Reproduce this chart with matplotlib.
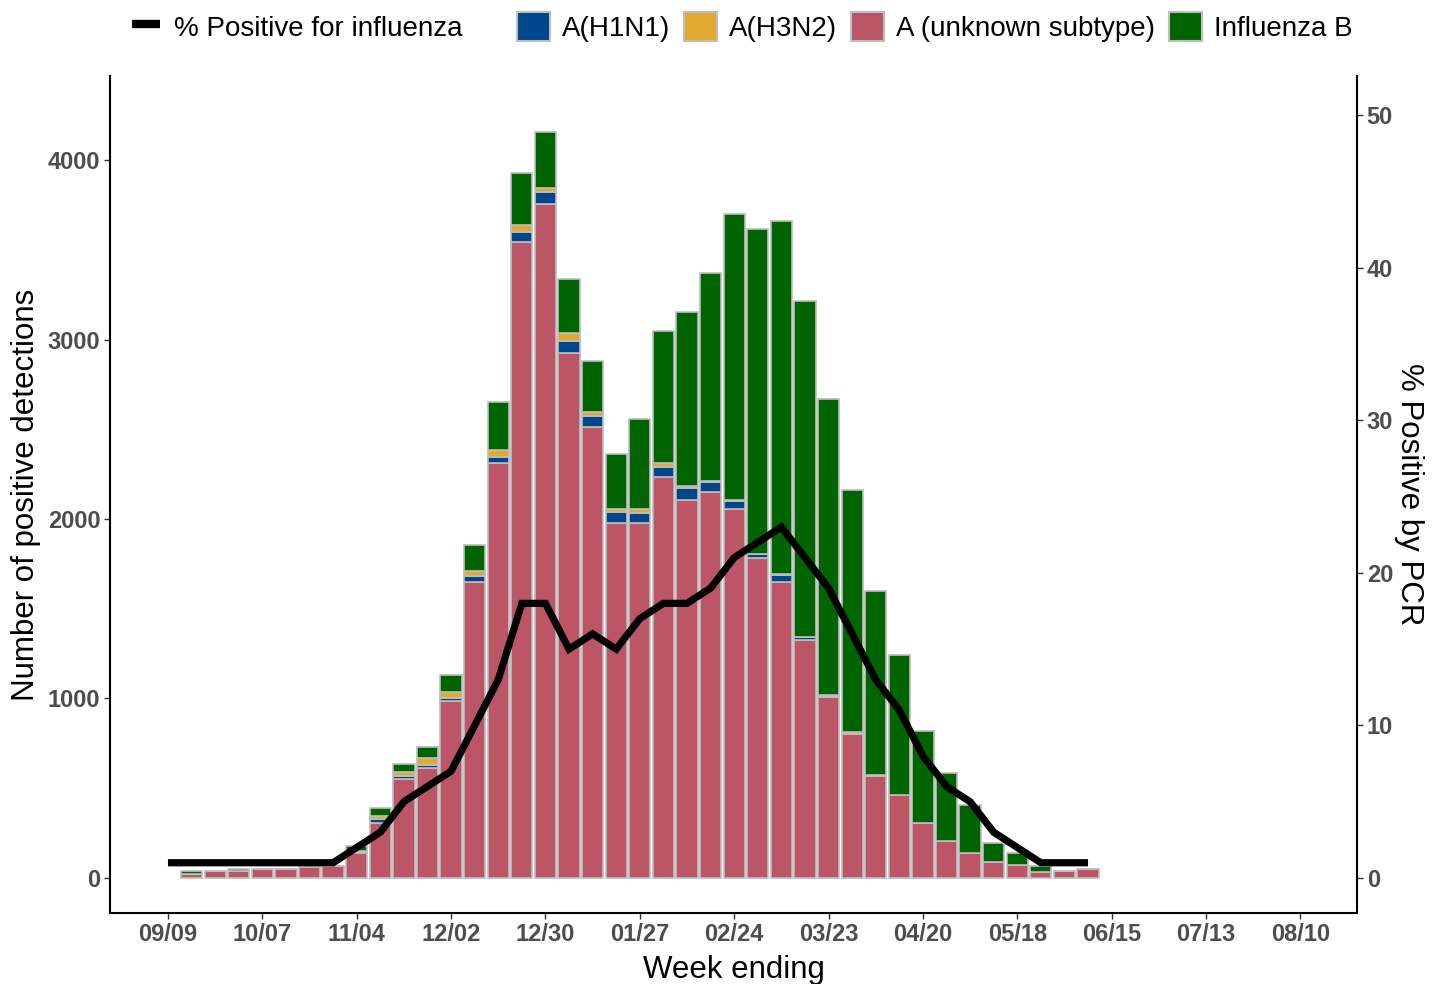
import numpy as np
import pandas as pd
import matplotlib
matplotlib.use("Agg")
import matplotlib.pyplot as plt
from matplotlib.patches import Patch
from matplotlib.lines import Line2D

plt.rcParams['font.family'] = ['Liberation Sans', 'DejaVu Sans']

# ---------------- data ----------------
first_week = "2023-09-09"
n_weeks = 40
# weekly counts, starting at week ending 09/16 (no bar for 09/09)
unknown_a = [25, 40, 40, 50, 50, 60, 65, 140, 305, 550, 615, 985, 1650, 2310,
             3545, 3755, 2925, 2515, 1975, 1975, 2232, 2106, 2150, 2058, 1781,
             1649, 1326, 1007, 800, 570, 460, 305, 208, 137, 91, 72, 35, 40, 50]
h1n1 = [0, 0, 0, 0, 0, 0, 0, 5, 25, 20, 15, 15, 30, 35, 55, 65, 65, 60, 65,
        60, 55, 65, 55, 45, 25, 40, 15, 5, 8, 5, 0, 0, 0, 0, 0, 0, 0, 0, 0]
h3n2 = [0, 0, 0, 0, 0, 0, 0, 3, 15, 20, 40, 35, 30, 40, 40, 25, 45, 20, 15,
        22, 25, 15, 5, 3, 0, 5, 3, 5, 5, 0, 0, 0, 0, 0, 0, 0, 0, 0, 0]
flu_b = [15, 0, 10, 0, 0, 0, 0, 30, 45, 45, 58, 95, 145, 265, 290, 310, 300,
         285, 309, 502, 735, 969, 1159, 1593, 1808, 1968, 1870, 1650, 1349,
         1024, 780, 515, 375, 270, 102, 65, 33, 0, 0]
# % positive, starting at week ending 09/09
pct_positive = [1, 1, 1, 1, 1, 1, 1, 1, 2, 3, 5, 6, 7, 10, 13, 18, 18, 15, 16,
                15, 17, 18, 18, 19, 21, 22, 23, 21, 19, 16, 13, 11, 8, 6, 5, 3,
                2, 1, 1, 1]
tick_labels = ["09/09", "10/07", "11/04", "12/02", "12/30", "01/27", "02/24",
               "03/23", "04/20", "05/18", "06/15", "07/13", "08/10"]
left_ticks = [0, 1000, 2000, 3000, 4000]
right_ticks = [0, 10, 20, 30, 40, 50]
sec_factor = 85

# ---------------- styling ----------------
c_h1n1 = "#00468B"
c_h3n2 = "#E0A930"
c_unk = "#BC5566"
c_b = "#006400"
edge = "#BEBEBE"
tick_col = "#4D4D4D"

weeks = pd.date_range(first_week, periods=n_weeks, freq="7D")
bar_weeks = weeks[1:]
tick_pos = pd.date_range(first_week, periods=len(tick_labels), freq="28D")

fig = plt.figure(figsize=(14.42, 9.84), dpi=100)
ax = fig.add_axes([110/1442, 1-913/984, (1357-110)/1442, (913-76)/984])

width = pd.Timedelta(days=6.3)
bottom = np.zeros(len(bar_weeks))
for vals, col in [(unknown_a, c_unk), (h1n1, c_h1n1), (h3n2, c_h3n2), (flu_b, c_b)]:
    v = np.array(vals, dtype=float)
    ax.bar(bar_weeks, v, width=width, bottom=bottom, color=col,
           edgecolor=edge, linewidth=1.2, zorder=2)
    bottom += v

ylim = (-195, 4468)
ax.set_ylim(*ylim)
ax.set_xlim(weeks[0] - pd.Timedelta(days=17.2), weeks[0] + pd.Timedelta(days=352.8))
ax.set_yticks(left_ticks)
ax.set_yticklabels([str(t) for t in left_ticks])
ax.set_xticks(tick_pos)
ax.set_xticklabels(tick_labels)

ax2 = ax.twinx()
ax2.plot(weeks, pct_positive, color="black", linewidth=5.2,
         solid_capstyle="butt", solid_joinstyle="miter", zorder=3)
ax2.set_ylim(ylim[0]/sec_factor, ylim[1]/sec_factor)
ax2.set_yticks(right_ticks)

for a in (ax, ax2):
    a.spines["top"].set_visible(False)
    for s in a.spines.values():
        s.set_linewidth(1.5)
    a.tick_params(length=4, width=1, color="#333333", pad=3,
                  labelsize=17, labelcolor=tick_col)
    for lab in a.get_xticklabels() + a.get_yticklabels():
        lab.set_fontweight("bold")
ax.spines["right"].set_visible(False)
ax2.spines["left"].set_visible(False)
ax2.spines["bottom"].set_visible(False)

ax.set_ylabel("Number of positive detections", fontsize=22.5, labelpad=4.5)
ax.set_xlabel("Week ending", fontsize=22.5, labelpad=7)
ax2.set_ylabel("% Positive by PCR", fontsize=22.5, rotation=270,
               va="bottom", labelpad=1)

# legends
h_line = [Line2D([0], [0], color="black", linewidth=6, solid_capstyle="butt")]
fig.legend(h_line, ["% Positive for influenza"], loc="center left",
           bbox_to_anchor=(132/1442, 1-27/984), frameon=False, fontsize=20,
           handlelength=1.0, handleheight=1.19, handletextpad=0.5,
           borderpad=0, borderaxespad=0)
h_patch = [Patch(facecolor=c, edgecolor=edge, linewidth=1.5)
           for c in (c_h1n1, c_h3n2, c_unk, c_b)]
fig.legend(h_patch, ["A(H1N1)", "A(H3N2)", "A (unknown subtype)", "Influenza B"],
           loc="center left", bbox_to_anchor=(517/1442, 1-27/984), ncol=4,
           frameon=False, fontsize=20, handlelength=1.19, handleheight=1.19,
           handletextpad=0.43, columnspacing=0.5, borderpad=0, borderaxespad=0)

fig.savefig("out.png", dpi=100)
